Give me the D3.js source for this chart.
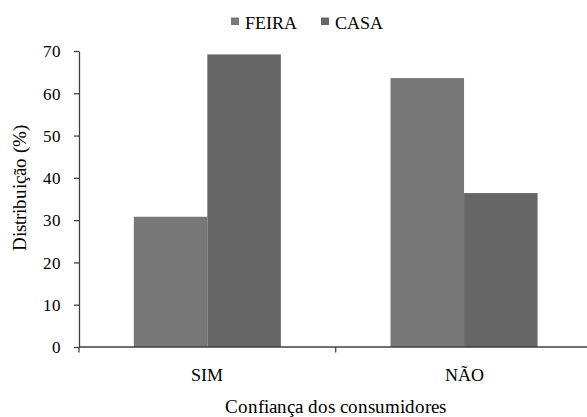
<!DOCTYPE html>
<html>
<head>
<meta charset="utf-8">
<script src="https://cdn.jsdelivr.net/npm/d3@7"></script>
<style>
  @font-face {
    font-family: "ChartSerif";
    src: local("Liberation Serif"), local("LiberationSerif"), local("Liberation Serif Regular"),
         local("Times New Roman"), local("Tinos"), local("DejaVu Serif");
  }
  html, body { margin: 0; padding: 0; background: #fff; }
  svg { display: block; }
  svg text { font-family: "ChartSerif", "Liberation Serif", "Times New Roman", serif; }
</style>
</head>
<body>
<svg id="chart" width="587" height="417"></svg>
<script>
// Consumer confidence by purchase place (%)
const categories = ["SIM", "NÃO"];
const seriesNames = ["FEIRA", "CASA"];
const feira = [30.8, 63.6];
const casa = [69.2, 36.4];
const yTicks = [0, 10, 20, 30, 40, 50, 60, 70];
const seriesColors = ["#787878", "#666666"];
const axisTitleX = "Confiança dos consumidores";
const axisTitleY = "Distribuição (%)";

const values = [feira, casa];
const rows = categories.map((c, i) => ({
  cat: c,
  vals: seriesNames.map((s, j) => ({ key: s, value: values[j][i] }))
}));

const svg = d3.select("#chart");
const axisColor = "#404040";
const FONT = '"ChartSerif", "Liberation Serif", "Times New Roman", serif';

const x0 = d3.scaleBand().domain(categories).range([79, 592.4]).paddingInner(0).paddingOuter(0);
const x1 = d3.scaleBand().domain(seriesNames).range([0, x0.bandwidth()])
  .paddingInner(0).paddingOuter(0.746);
const y = d3.scaleLinear().domain([0, 70]).range([347, 51]);
const color = d3.scaleOrdinal().domain(seriesNames).range(seriesColors);

// bars
const groups = svg.append("g").selectAll("g").data(rows).join("g")
  .attr("transform", d => `translate(${x0(d.cat)},0)`);
groups.selectAll("rect").data(d => d.vals).join("rect")
  .attr("x", d => x1(d.key))
  .attr("width", x1.bandwidth())
  .attr("y", d => y(d.value))
  .attr("height", d => y(0) - y(d.value))
  .attr("fill", d => color(d.key));

// y axis
const yAxis = svg.append("g").attr("transform", "translate(79,0)")
  .call(d3.axisLeft(y).tickValues(yTicks).tickFormat(d3.format("d"))
    .tickSize(5).tickSizeOuter(0).tickPadding(13));
yAxis.attr("font-family", FONT).attr("font-size", 17);
yAxis.select(".domain").attr("stroke", axisColor).attr("stroke-width", 1.3);
yAxis.selectAll(".tick line").attr("stroke", axisColor).attr("stroke-width", 1.3);
yAxis.selectAll(".tick text")
  .attr("font-size", 17).attr("dy", "0.34em").attr("fill", "#000")
  .attr("font-family", FONT).style("font-family", FONT);

// x axis line with ticks at category boundaries
const xAxis = svg.append("g");
xAxis.append("line")
  .attr("x1", x0.range()[0]).attr("x2", x0.range()[1])
  .attr("y1", y(0)).attr("y2", y(0))
  .attr("stroke", axisColor).attr("stroke-width", 1.3);
const bounds = categories.map(c => x0(c)).concat([x0(categories[categories.length - 1]) + x0.bandwidth()]);
xAxis.selectAll("line.b").data(bounds).join("line").attr("class", "b")
  .attr("x1", d => d).attr("x2", d => d)
  .attr("y1", y(0)).attr("y2", y(0) + 5.5)
  .attr("stroke", axisColor).attr("stroke-width", 1.3);
xAxis.selectAll("text").data(categories).join("text")
  .attr("x", d => x0(d) + x0.bandwidth() / 2)
  .attr("y", 381)
  .attr("text-anchor", "middle")
  .attr("font-size", 18)
  .attr("fill", "#000")
  .attr("font-family", FONT).style("font-family", FONT)
  .text(d => d);

// axis titles
svg.append("text")
  .attr("x", (x0.range()[0] + x0.range()[1]) / 2)
  .attr("y", 413)
  .attr("text-anchor", "middle")
  .attr("font-size", 19)
  .attr("fill", "#000")
  .attr("font-family", FONT).style("font-family", FONT)
  .text(axisTitleX);

svg.append("text")
  .attr("transform", "translate(26,188) rotate(-90)")
  .attr("text-anchor", "middle")
  .attr("font-size", 18.5)
  .attr("fill", "#000")
  .attr("font-family", FONT).style("font-family", FONT)
  .text(axisTitleY);

// legend
const legend = svg.append("g");
const legendX = [231, 321];
seriesNames.forEach((name, i) => {
  legend.append("rect")
    .attr("x", legendX[i]).attr("y", 17.5).attr("width", 8).attr("height", 7.5)
    .attr("fill", color(name));
  legend.append("text")
    .attr("x", legendX[i] + 14).attr("y", 29)
    .attr("font-size", 18)
    .attr("fill", "#000")
    .attr("font-family", FONT).style("font-family", FONT)
    .text(name);
});
</script>
</body>
</html>
